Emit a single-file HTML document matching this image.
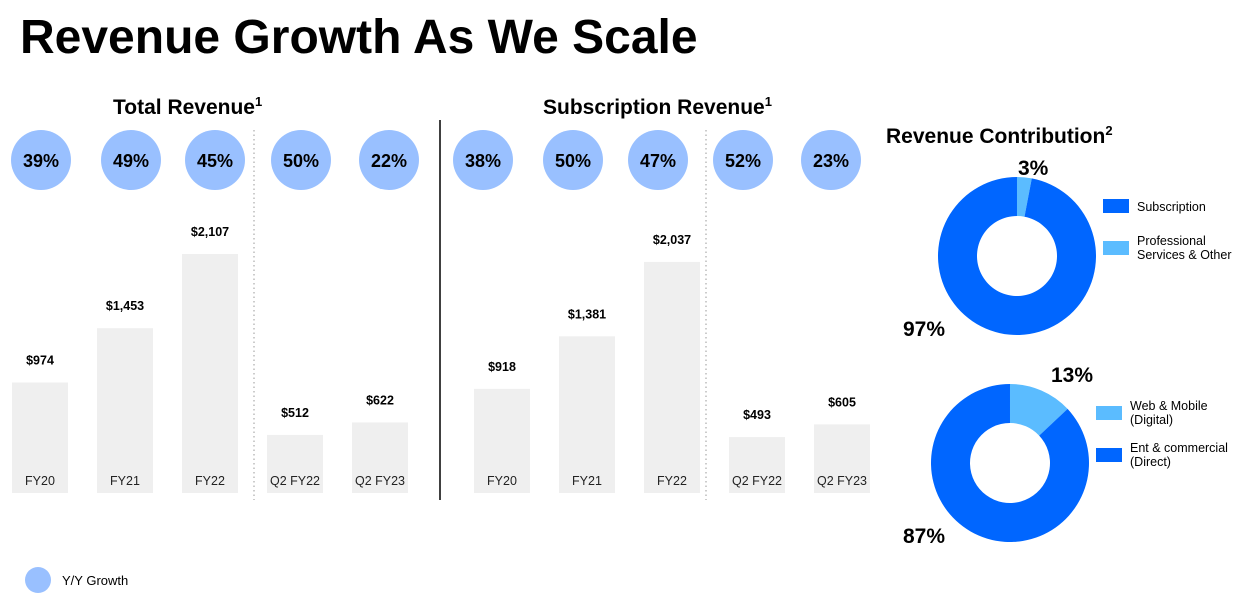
<!DOCTYPE html>
<html><head><meta charset="utf-8"><style>
body{margin:0;width:1247px;height:612px;background:#fff;font-family:"Liberation Sans",Arial,sans-serif;overflow:hidden;position:relative}
</style></head><body>
<svg width="1247" height="612" style="position:absolute;left:0;top:0" font-family="Liberation Sans, Arial, sans-serif" id="svg">
<text x="20" y="53" font-size="48" font-weight="bold">Revenue Growth As We Scale</text>
<text x="113" y="114" font-size="21" font-weight="bold">Total Revenue<tspan font-size="13" dy="-8">1</tspan></text>
<text x="543" y="114" font-size="21" font-weight="bold">Subscription Revenue<tspan font-size="13" dy="-8">1</tspan></text>
<text x="886" y="143" font-size="21" font-weight="bold">Revenue Contribution<tspan font-size="13" dy="-8">2</tspan></text>
<line x1="254" y1="130" x2="254" y2="500" stroke="#999" stroke-dasharray="1.5,3"/>
<line x1="706" y1="130" x2="706" y2="500" stroke="#999" stroke-dasharray="1.5,3"/>
<line x1="440" y1="120" x2="440" y2="500" stroke="#000" stroke-width="1.5"/>
<g id="charts"></g>
<circle cx="38" cy="580" r="13" fill="#99c0ff"/>
<text x="62" y="585" font-size="13">Y/Y Growth</text>
<rect x="1103" y="199" width="26" height="14" fill="#0066ff"/>
<text x="1137" y="211" font-size="12.5">Subscription</text>
<rect x="1103" y="241" width="26" height="14" fill="#5bbcff"/>
<text x="1137" y="245" font-size="12.5">Professional<tspan x="1137" dy="14">Services &amp; Other</tspan></text>
<rect x="1096" y="406" width="26" height="14" fill="#5bbcff"/>
<text x="1130" y="410" font-size="12.5">Web &amp; Mobile<tspan x="1130" dy="14">(Digital)</tspan></text>
<rect x="1096" y="448" width="26" height="14" fill="#0066ff"/>
<text x="1130" y="452" font-size="12.5">Ent &amp; commercial<tspan x="1130" dy="14">(Direct)</tspan></text>
</svg>
<script>
const categories=["FY20","FY21","FY22","Q2 FY22","Q2 FY23"];
const totalValues=[974,1453,2107,512,622];
const totalLabels=["$974","$1,453","$2,107","$512","$622"];
const totalGrowth=["39%","49%","45%","50%","22%"];
const subValues=[918,1381,2037,493,605];
const subLabels=["$918","$1,381","$2,037","$493","$605"];
const subGrowth=["38%","50%","47%","52%","23%"];
const donut1=[97,3];
const donut1Labels=["97%","3%"];
const donut2=[87,13];
const donut2Labels=["87%","13%"];
const NS="http://www.w3.org/2000/svg";
const g=document.getElementById('charts');
function mk(t,a){const e=document.createElementNS(NS,t);for(const k in a)e.setAttribute(k,a[k]);g.appendChild(e);return e;}
const base=493,k=239/2107;
function y(v){return base-v*k;}
function drawBars(prefix,xs,vals,labels,growth,cxs){
 vals.forEach((v,i)=>{
  const r=mk('rect',{x:xs[i],y:y(v),width:56,height:base-y(v),fill:'#efefef'});
  
  
  const t=mk('text',{x:xs[i]+28,y:y(v)-18,'font-size':12.5,'font-weight':'bold','text-anchor':'middle'});t.textContent=labels[i];
  
  
  const c=mk('text',{x:xs[i]+28,y:485,'font-size':12.5,'text-anchor':'middle',fill:'#222'});c.textContent=categories[i];
  
  
  const ci=mk('circle',{cx:cxs[i],cy:160,r:30,fill:'#99c0ff'});
  
  
  const gt=mk('text',{x:cxs[i],y:167,'font-size':18,'font-weight':'bold','text-anchor':'middle'});gt.textContent=growth[i];
  
  
 });
}
drawBars('total',[12,97,182,267,352],totalValues,totalLabels,totalGrowth,[41,131,215,301,389]);
drawBars('subscription',[474,559,644,729,814],subValues,subLabels,subGrowth,[483,573,658,743,831]);
function arc(cx,cy,R,r,a0,a1){
 const p=(rad,a)=>[cx+rad*Math.sin(a),cy-rad*Math.cos(a)];
 const lg=(a1-a0)>Math.PI?1:0;
 const [x0,y0]=p(R,a0),[x1,y1]=p(R,a1),[x2,y2]=p(r,a1),[x3,y3]=p(r,a0);
 return `M${x0} ${y0}A${R} ${R} 0 ${lg} 1 ${x1} ${y1}L${x2} ${y2}A${r} ${r} 0 ${lg} 0 ${x3} ${y3}Z`;
}
function donut(prefix,cx,cy,vals,cols,labels,lpos){
 const tot=vals.reduce((a,b)=>a+b,0);
 const small=vals[1]/tot*2*Math.PI;
 const s1=mk('path',{d:arc(cx,cy,79,40,0,small),fill:cols[1]});
 
 
 const s0=mk('path',{d:arc(cx,cy,79,40,small,2*Math.PI-0.0001),fill:cols[0]});
 
 
 labels.forEach((l,i)=>{
  const t=mk('text',{x:lpos[i][0],y:lpos[i][1],'font-size':21,'font-weight':'bold'});t.textContent=l;
  
  
 });
}
donut('subscription-donut',1017,256,donut1,['#0066ff','#5bbcff'],donut1Labels,[[903,336],[1018,175]]);
donut('channel-donut',1010,463,donut2,['#0066ff','#5bbcff'],donut2Labels,[[903,543],[1051,382]]);
</script>
</body></html>
